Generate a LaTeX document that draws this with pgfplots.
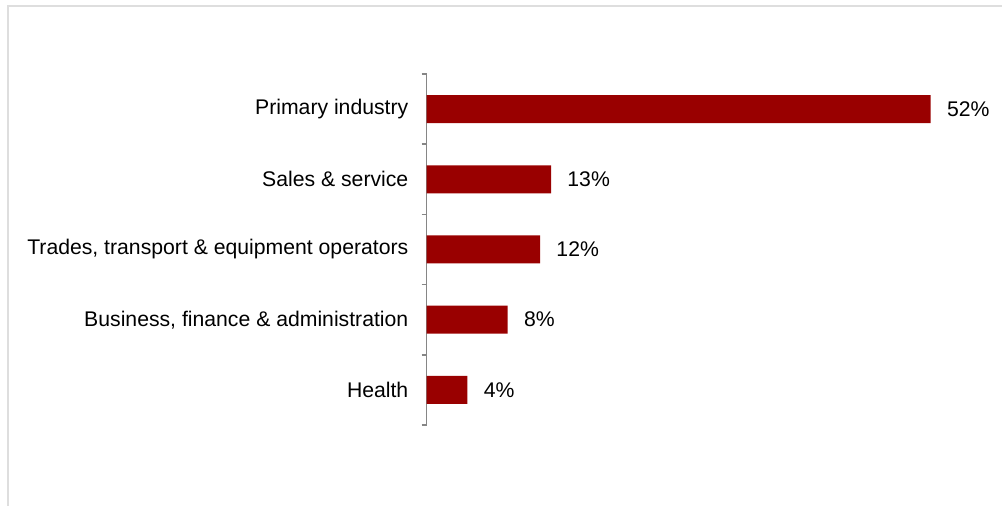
\documentclass[border=0pt]{standalone}
\usepackage{fontspec}
\setmainfont{Liberation Sans}
\usepackage{pgfplots}
\pgfplotsset{compat=1.18}
\definecolor{barred}{RGB}{153,0,0}
\definecolor{framegray}{RGB}{222,222,222}
\definecolor{axisgray}{RGB}{134,134,134}
\begin{document}
\begin{tikzpicture}
\path[use as bounding box] (0,0) rectangle (501pt,253pt);
\draw[framegray, line width=1pt] (4pt,-1pt) -- (4pt,250pt) -- (502pt,250pt);
\begin{axis}[
  at={(213.35pt,40.5pt)}, anchor=south west,
  scale only axis,
  width=266.5pt, height=175.5pt,
  xmin=0, xmax=55,
  ymin=-0.5, ymax=4.5,
  hide x axis,
  axis y line*=left,
  y axis line style={axisgray, line width=0.8pt},
  ytick={0,1,2,3,4},
  yticklabels={Health, {Business, finance \& administration}, {Trades, transport \& equipment operators}, {Sales \& service}, {Primary industry}},
  major tick length=0pt,
  minor ytick={-0.5,0.5,1.5,2.5,3.5,4.5},
  minor tick length=2.5pt,
  tick align=outside,
  minor tick style={axisgray, line width=0.8pt},
  yticklabel style={font=\fontsize{10.6}{12}\selectfont, inner sep=0pt, xshift=-9pt},
  xbar, bar width=14pt,
  clip=false,
  point meta=explicit symbolic,
  nodes near coords={\pgfplotspointmeta},
  nodes near coords style={font=\fontsize{10.6}{12}\selectfont, anchor=west, inner sep=0pt, xshift=8pt},
]
\addplot[fill=barred, draw=none] coordinates {
  (52,4) [52\%]
  (12.83,3) [13\%]
  (11.7,2) [12\%]
  (8.36,1) [8\%]
  (4.2,0) [4\%]
};
\end{axis}
\end{tikzpicture}
\end{document}
